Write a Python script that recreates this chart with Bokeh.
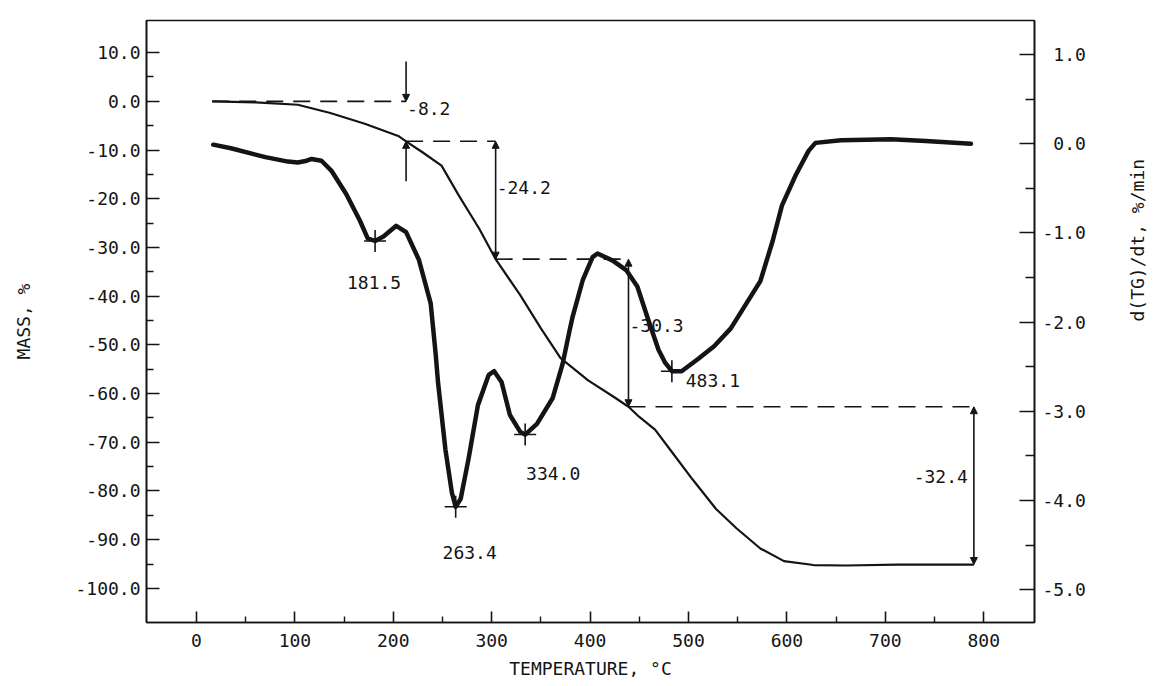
from math import pi

from bokeh.core.properties import value
from bokeh.embed import file_html
from bokeh.models import (Arrow, ColumnDataSource, CustomJSTickFormatter, FixedTicker,
                          LinearAxis, NormalHead, PrintfTickFormatter, Range1d)
from bokeh.plotting import figure
from bokeh.resources import INLINE

# TG curve: temperature (°C) and mass change (%)
tg_temp = [16, 60, 103, 136, 171, 205, 213, 230, 249, 266.5, 287.5, 304, 329, 350, 370,
           398, 425, 439, 450, 466, 483.5, 504, 528, 549, 573, 597, 627, 660, 712, 790]
tg_mass = [0.0, -0.2, -0.7, -2.4, -4.6, -7.1, -8.2, -10.5, -13.2, -19.3, -26.2, -32.4,
           -39.8, -46.6, -52.7, -57.3, -60.8, -62.7, -64.8, -67.4, -72.1, -77.6, -83.7,
           -87.7, -91.8, -94.4, -95.2, -95.3, -95.1, -95.1]

# DTG curve: temperature (°C) and d(TG)/dt (%/min)
dtg_temp = [17, 35, 70, 93, 103, 112, 117, 127, 137, 152, 166, 174, 181.5, 190, 203, 213,
            226, 238, 243, 245.5, 253, 259.5, 263.4, 268.5, 276.5, 286, 297, 302.5, 310,
            318.5, 329, 334.0, 346, 362, 372, 379, 382, 392.5, 402.5, 407.5, 423, 437, 448,
            459, 469.5, 476, 483.1, 493, 510, 526, 543, 573, 585.5, 595, 609, 622, 629, 655,
            706, 741, 787]
dtg_rate = [-0.01, -0.05, -0.15, -0.20, -0.21, -0.19, -0.17, -0.19, -0.30, -0.56, -0.86,
            -1.06, -1.09, -1.04, -0.92, -0.99, -1.30, -1.79, -2.35, -2.68, -3.43, -3.91,
            -4.07, -3.98, -3.53, -2.93, -2.59, -2.55, -2.67, -3.04, -3.23, -3.26, -3.14,
            -2.85, -2.47, -2.10, -1.95, -1.53, -1.27, -1.23, -1.31, -1.42, -1.60, -1.97,
            -2.31, -2.45, -2.55, -2.55, -2.41, -2.27, -2.07, -1.54, -1.09, -0.69, -0.35,
            -0.08, 0.01, 0.04, 0.05, 0.03, 0.00]

# DTG peaks
peak_temp = [181.5, 263.4, 334.0, 483.1]
peak_rate = [-1.09, -4.07, -3.26, -2.55]

# mass-loss steps: end temperature (°C) and loss (%)
step_end = [213, 304, 439, 790]
step_loss = [-8.2, -24.2, -30.3, -32.4]

# axis ticks
temp_ticks = [0, 100, 200, 300, 400, 500, 600, 700, 800]
mass_ticks = [10, 0, -10, -20, -30, -40, -50, -60, -70, -80, -90, -100]
rate_ticks = [1.0, 0.0, -1.0, -2.0, -3.0, -4.0, -5.0]

FONT = "DejaVu Sans Mono"
INK = "#141414"
FS = "18px"

p = figure(width=1161, height=686, output_backend="svg", toolbar_location=None,
           x_range=Range1d(-50.8, 851.6), y_range=Range1d(-107.0, 16.6),
           min_border_left=146, min_border_right=127, min_border_top=20,
           min_border_bottom=64)
p.extra_y_ranges = {"dtg": Range1d(-5.367, 1.382)}
p.grid.visible = False
p.background_fill_color = "white"
p.border_fill_color = "white"
p.outline_line_color = INK
p.outline_line_width = 1.6


def style_axis(ax, tick_in, minor_in, standoff, title, title_standoff):
    ax.axis_line_color = INK
    ax.axis_line_width = 1.6
    ax.major_tick_line_color = INK
    ax.major_tick_line_width = 1.6
    ax.minor_tick_line_color = INK
    ax.minor_tick_line_width = 1.4
    ax.major_tick_in = tick_in
    ax.major_tick_out = 0
    ax.minor_tick_in = minor_in
    ax.minor_tick_out = 0
    ax.major_label_standoff = standoff
    ax.major_label_text_font = FONT
    ax.major_label_text_font_size = FS
    ax.major_label_text_color = INK
    ax.axis_label = title
    ax.axis_label_standoff = title_standoff
    ax.axis_label_text_font = FONT
    ax.axis_label_text_font_size = FS
    ax.axis_label_text_font_style = "normal"
    ax.axis_label_text_color = INK


xa = p.xaxis[0]
xa.ticker = FixedTicker(ticks=temp_ticks,
                        minor_ticks=[t + 50 for t in temp_ticks[:-1]])
style_axis(xa, 11, 6, 11, "TEMPERATURE, °C", 8)

ya = p.yaxis[0]
ya.ticker = FixedTicker(ticks=mass_ticks,
                        minor_ticks=[t - 5 for t in mass_ticks[:-1]])
ya.formatter = PrintfTickFormatter(format="%.1f")
style_axis(ya, 13, 7, 6, "MASS, %", 38)

ra = LinearAxis(y_range_name="dtg",
                ticker=FixedTicker(ticks=rate_ticks,
                                   minor_ticks=[t - 0.5 for t in rate_ticks[:-1]]),
                formatter=CustomJSTickFormatter(
                    code="return (tick >= 0 ? '\u00a0' : '') + tick.toFixed(1);"))
style_axis(ra, 15, 9, 8, "d(TG)/dt, %/min", 49)
ra.axis_label_orientation = pi / 2
p.add_layout(ra, "right")

# TG and DTG curves
p.line(tg_temp, tg_mass, line_color=INK, line_width=2.2, line_join="round")
p.line(dtg_temp, dtg_rate, line_color=INK, line_width=4.5, line_join="round",
       line_cap="round", y_range_name="dtg")

# peak markers and temperatures
p.scatter(peak_temp, peak_rate, marker="cross", size=22, line_color=INK,
          line_width=1.6, y_range_name="dtg")
p.text(peak_temp, peak_rate, text=[f"{t:.1f}" for t in peak_temp],
       x_offset=[-1, 14, 28, 41], y_offset=[42, 46, 39, 9],
       text_align="center", text_baseline="middle", text_color=INK,
       text_font=value(FONT), text_font_size=FS, y_range_name="dtg")

# mass-loss steps: dashed levels, dimension arrows and values
levels = [0.0]
for loss in step_loss:
    levels.append(round(levels[-1] + loss, 1))
starts = [tg_temp[0]] + step_end[:-1]

p.segment(x0=starts, y0=levels[:-1], x1=step_end, y1=levels[:-1],
          line_color=INK, line_width=1.6, line_dash="17 10")

inner = dict(x0=[], y0=[], x1=[], y1=[])
outer = dict(x0=[], y0=[], x1=[], y1=[])
for t, top, bot, loss in zip(step_end, levels[:-1], levels[1:], step_loss):
    if abs(loss) < 10:
        # short step: arrows point in from outside
        outer["x0"] += [t, t]
        outer["y0"] += [top - loss, bot + loss]
        outer["x1"] += [t, t]
        outer["y1"] += [top, bot]
    else:
        inner["x0"].append(t)
        inner["y0"].append(top)
        inner["x1"].append(t)
        inner["y1"].append(bot)

head = dict(size=7, fill_color=INK, line_color=INK, line_width=1)
p.add_layout(Arrow(x_start="x0", y_start="y0", x_end="x1", y_end="y1",
                   source=ColumnDataSource(inner), line_color=INK, line_width=1.6,
                   start=NormalHead(**head), end=NormalHead(**head)))
p.add_layout(Arrow(x_start="x0", y_start="y0", x_end="x1", y_end="y1",
                   source=ColumnDataSource(outer), line_color=INK, line_width=1.6,
                   end=NormalHead(**head)))

label_frac = [0.18, 0.39, 0.45, 0.44]
lab_y = [top + f * loss for top, f, loss in zip(levels[:-1], label_frac, step_loss)]
lab_t = [f"{loss:.1f}" for loss in step_loss]
p.text(step_end[:-1], lab_y[:-1], text=lab_t[:-1], x_offset=1, text_align="left",
       text_baseline="middle", text_color=INK, text_font=value(FONT), text_font_size=FS)
p.text(step_end[-1:], lab_y[-1:], text=lab_t[-1:], x_offset=-6, text_align="right",
       text_baseline="middle", text_color=INK, text_font=value(FONT), text_font_size=FS)

open("out.html", "w").write(file_html(p, INLINE))
